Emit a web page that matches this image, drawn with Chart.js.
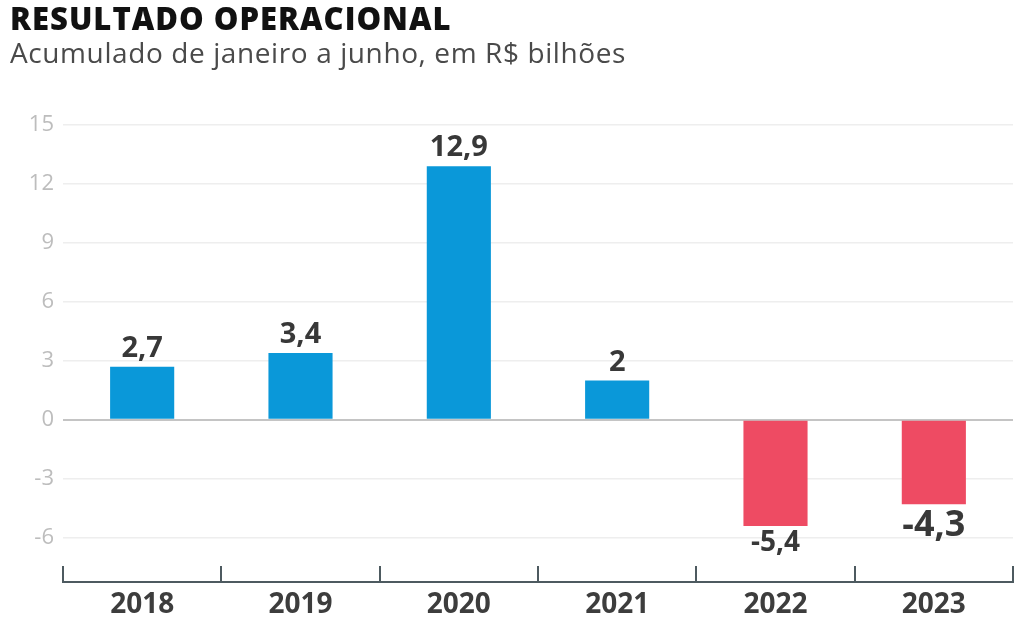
<!DOCTYPE html>
<html>
<head>
<meta charset="utf-8">
<script src="https://cdn.jsdelivr.net/npm/chart.js@4"></script>
<style>
  html, body { margin: 0; padding: 0; background: #fff; }
  #wrap { position: relative; width: 1024px; height: 638px; font-family: "Open Sans", sans-serif; }
  #title { position: absolute; left: 10px; top: -3px; font-size: 31px; font-weight: 800; color: #111; letter-spacing: 1px; line-height: 1.36; }
  #subtitle { position: absolute; left: 10px; top: 33px; font-size: 28px; color: #4a4a4a; letter-spacing: 0.6px; line-height: 1.36; }
  canvas { position: absolute; left: 0; top: 0; }
</style>
</head>
<body>
<div id="wrap">
  <canvas id="chart" width="1024" height="638"></canvas>
  <div id="title">RESULTADO OPERACIONAL</div>
  <div id="subtitle">Acumulado de janeiro a junho, em R$ bilhões</div>
</div>
<script>
const years = ["2018", "2019", "2020", "2021", "2022", "2023"];
const resultado = [2.7, 3.4, 12.9, 2, -5.4, -4.3];
const yTicks = [-6, -3, 0, 3, 6, 9, 12, 15];

const BLUE = "#0a98d9";
const RED = "#ee4b63";

// value labels above / below each bar
const valueLabels = {
  id: "valueLabels",
  afterDatasetsDraw(chart, args, opts) {
    const ctx = chart.ctx;
    const meta = chart.getDatasetMeta(0);
    ctx.save();
    ctx.fillStyle = "#383838";
    ctx.textAlign = "center";
    meta.data.forEach((bar, i) => {
      const v = resultado[i];
      const size = opts.sizes[i];
      ctx.font = `bold ${size}px "Open Sans"`;
      const text = String(v).replace(".", ",");
      if (v >= 0) {
        ctx.textBaseline = "alphabetic";
        ctx.fillText(text, bar.x, bar.y - 10);
      } else {
        ctx.textBaseline = "top";
        ctx.fillText(text, bar.x, bar.y + 3);
      }
    });
    ctx.restore();
  }
};

// bottom axis line with ticks between categories
const bottomAxis = {
  id: "bottomAxis",
  afterDraw(chart) {
    const ctx = chart.ctx;
    const x = chart.scales.x;
    const area = chart.chartArea;
    const half = (x.getPixelForValue(1) - x.getPixelForValue(0)) / 2;
    ctx.save();
    ctx.strokeStyle = "#4d5a60";
    ctx.lineWidth = 2;
    ctx.beginPath();
    ctx.moveTo(area.left, area.bottom);
    ctx.lineTo(area.right, area.bottom);
    for (let i = 0; i <= years.length; i++) {
      const px = Math.round(x.getPixelForValue(i) - half);
      ctx.moveTo(px, area.bottom + 1);
      ctx.lineTo(px, area.bottom - 16);
    }
    ctx.stroke();
    ctx.restore();
  }
};

new Chart(document.getElementById("chart"), {
  type: "bar",
  data: {
    labels: years,
    datasets: [{
      data: resultado,
      backgroundColor: resultado.map(v => v >= 0 ? BLUE : RED),
      borderWidth: 0,
      categoryPercentage: 1,
      barPercentage: 0.405
    }]
  },
  options: {
    responsive: false,
    animation: false,
    layout: { padding: { top: 125, right: 11, left: 8, bottom: 0 } },
    plugins: {
      legend: { display: false },
      tooltip: { enabled: false },
      valueLabels: { sizes: [29, 29, 29, 29, 28, 36] }
    },
    scales: {
      x: {
        grid: { display: false, drawTicks: false },
        border: { display: false },
        ticks: {
          color: "#3d3d3d",
          padding: 6,
          font: { family: "Open Sans", size: 28, weight: "bold" }
        },
        afterFit(s) { s.height = 56; }
      },
      y: {
        min: -8.25,
        max: 15,
        afterBuildTicks(s) { s.ticks = yTicks.map(v => ({ value: v })); },
        afterFit(s) { s.width = 55; },
        grid: {
          drawTicks: false,
          color: ctx => ctx.tick && ctx.tick.value === 0 ? "#c4c4c4" : "#eeeeee",
          lineWidth: ctx => ctx.tick && ctx.tick.value === 0 ? 2 : 1.5
        },
        border: { display: false },
        ticks: {
          color: "#bdbdbd",
          padding: 9,
          font: { family: "Open Sans", size: 22 }
        }
      }
    }
  },
  plugins: [valueLabels, bottomAxis]
});
</script>
</body>
</html>
